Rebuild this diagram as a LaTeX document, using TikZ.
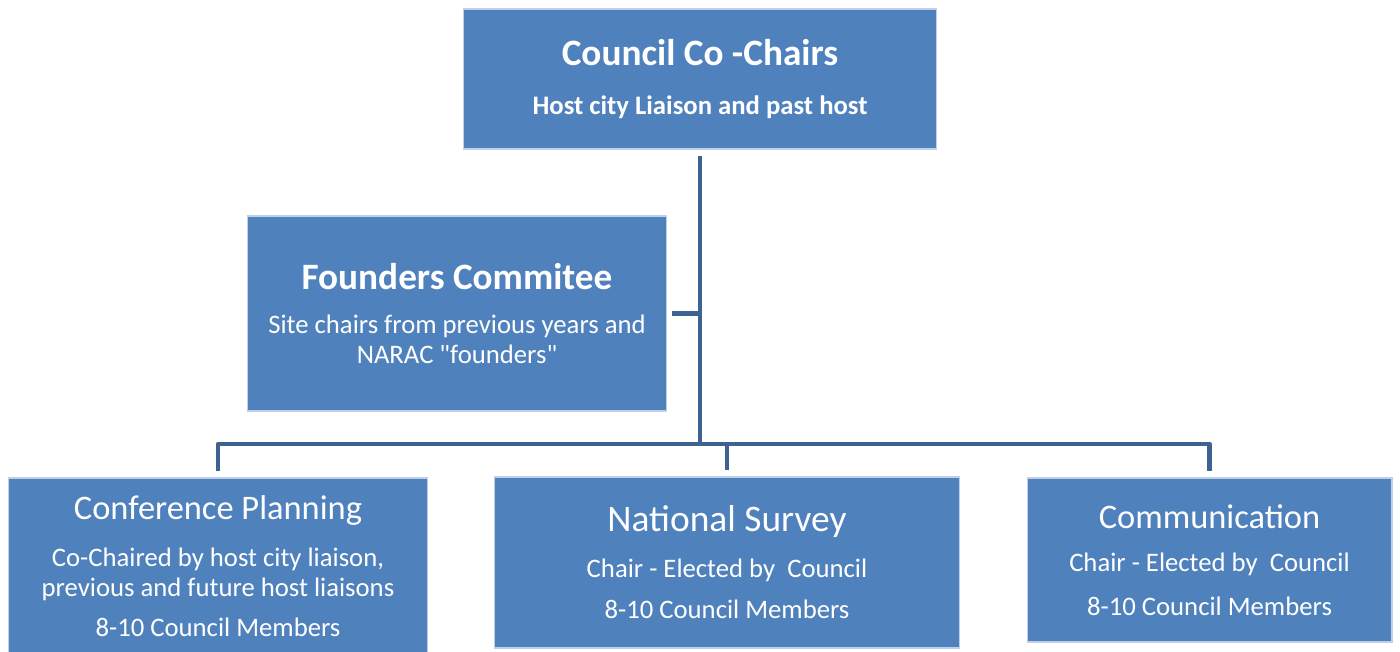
\documentclass[tikz,border=0pt]{standalone}
\usepackage{fontspec}
\setmainfont{Carlito}
\definecolor{boxblue}{RGB}{79,129,189}
\definecolor{boxedge}{RGB}{190,208,230}
\definecolor{linkblue}{RGB}{62,98,146}
\newcommand{\bighead}{\fontsize{21.2}{25}\selectfont\bfseries}
\newcommand{\subhead}{\fontsize{15.2}{18}\selectfont\bfseries}
\newcommand{\unithead}{\fontsize{19.6}{23}\selectfont}
\begin{document}
\begin{tikzpicture}[x=0.02cm, y=-0.02cm,
    box/.style={draw=boxedge, line width=0.6pt, fill=boxblue, text=white,
      align=center, inner sep=0pt, font=\fontsize{15.2}{16.8}\selectfont},
    conn/.style={draw=linkblue, line width=2.6pt, line join=round}]
		\useasboundingbox (0,0) rectangle (1400,652);

		\node[box, minimum width=9.48cm, minimum height=2.8cm] (chairs) at (700,79)
			{{\bighead Council Co -Chairs}\\[11pt] {\subhead Host city Liaison and past host}};
		\node[box, minimum width=8.4cm, minimum height=3.9cm] (founders) at (457,313.5)
			{{\bighead Founders Commitee}\\[8pt] Site chairs from previous years and\\ NARAC \textquotedbl founders\textquotedbl};

		\node[box, minimum width=8.4cm, minimum height=3.52cm] (planning) at (218,566)
			{{\unithead Conference Planning}\\[10pt] Co-Chaired by host city liaison,\\ previous and future host liaisons\\[6pt] 8-10 Council Members};
		\node[box, minimum width=9.32cm, minimum height=3.42cm] (survey) at (727,562.5)
			{{\fontsize{21.3}{25}\selectfont National Survey}\\[9pt] Chair - Elected by\ \ Council\\[7pt] 8-10 Council Members};
		\node[box, minimum width=7.3cm, minimum height=3.28cm] (comm) at (1209.5,560)
			{{\unithead Communication}\\[8pt] Chair - Elected by\ \ Council\\[8pt] 8-10 Council Members};

		\coordinate (bus) at (700,444);

		% trunk and branches
		\draw[conn, shorten <=0.12cm] (chairs.south) -- (bus);
		\draw[conn, shorten <=0.1cm] (founders.east) -- (founders.east -| bus);
		\draw[conn, shorten <=0.12cm, shorten >=0.12cm] (planning.north) |- (bus) -| (comm.north);
		\draw[conn, shorten >=0.12cm] (survey.north |- bus) -- (survey.north);
	\end{tikzpicture}
\end{document}
